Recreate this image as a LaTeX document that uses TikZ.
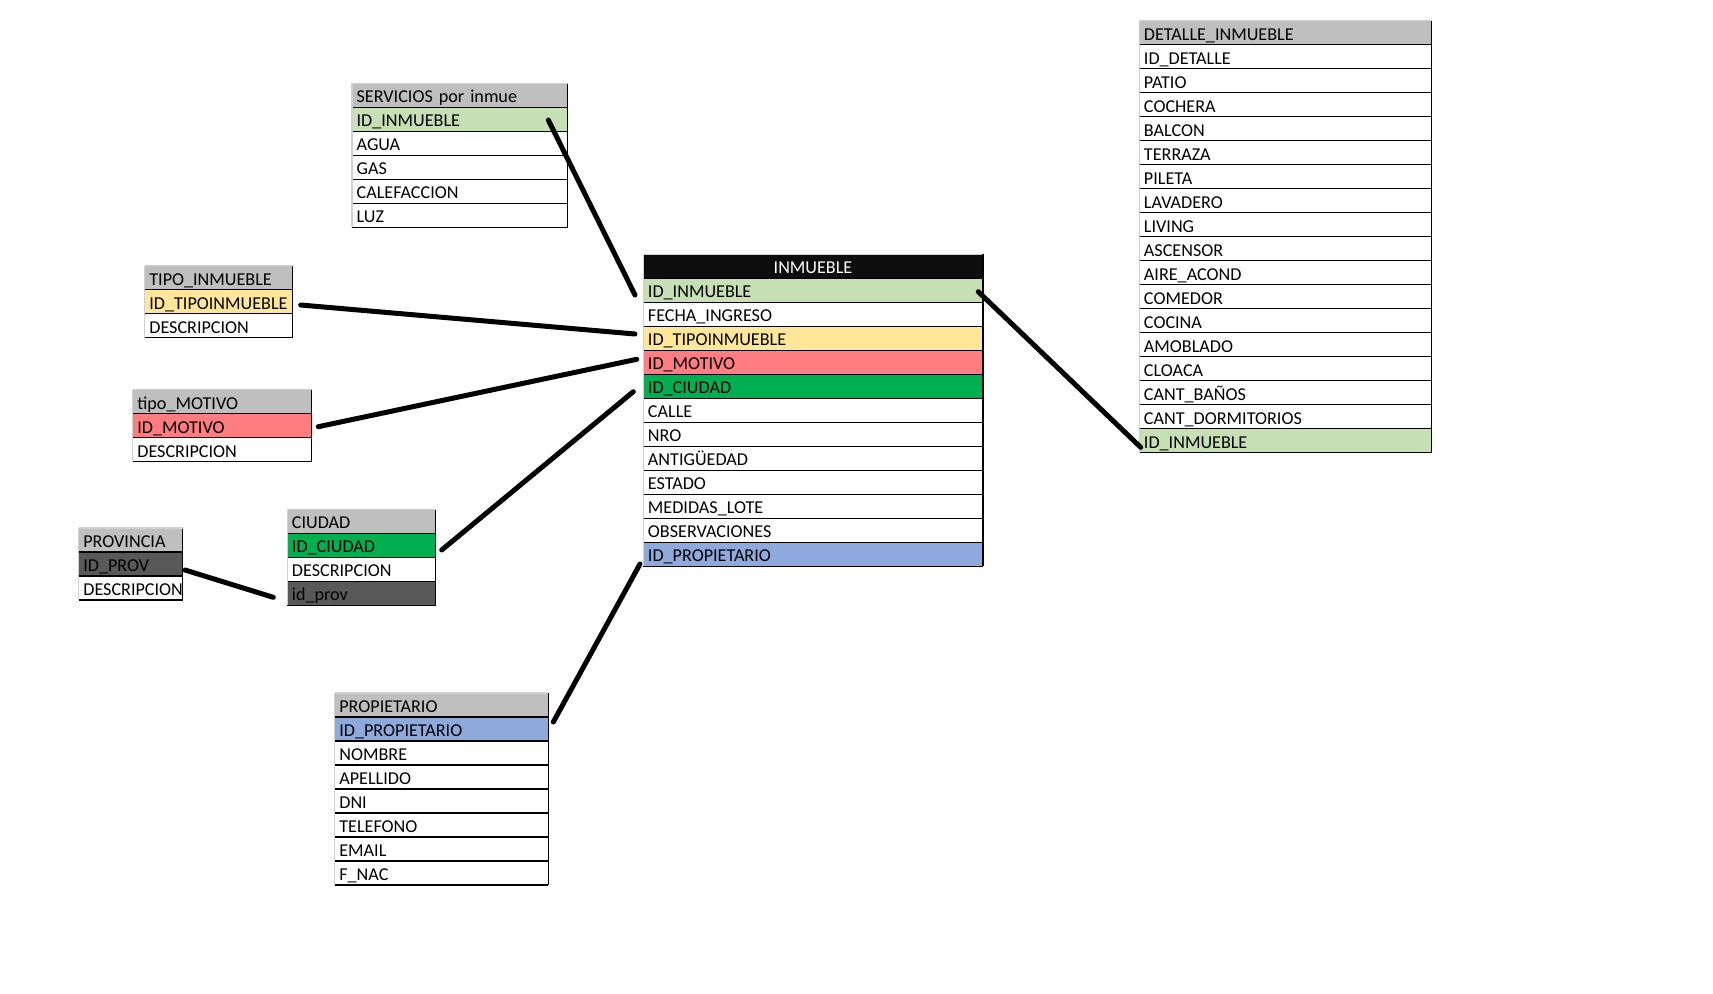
\documentclass[tikz,border=0pt]{standalone}
\usepackage{fontspec}
\setmainfont{Carlito}
\usetikzlibrary{calc}

\definecolor{hdrgray}{HTML}{BFBFBF}
\definecolor{pkgreen}{HTML}{C6E0B4}
\definecolor{tipoyellow}{HTML}{FFE699}
\definecolor{motivored}{HTML}{FF7C80}
\definecolor{ciudadgreen}{HTML}{00B050}
\definecolor{propblue}{HTML}{8EA9DB}
\definecolor{provdark}{HTML}{595959}
\definecolor{inmblack}{HTML}{0D0D0D}
\definecolor{gridgray}{HTML}{D0D0D0}

\tikzset{
  cellbox/.style={anchor=north west, inner xsep=3.5pt, inner ysep=0pt, outer sep=0pt,
    minimum height=18pt, text height=12pt, text depth=1.05pt, align=left,
    font=\fontsize{13.6pt}{16pt}\selectfont},
  rowline/.style={line width=0.9pt, black},
  gridline/.style={line width=0.9pt, gridgray},
  link/.style={line width=3.75pt, line cap=round, black},
}

% one table: name, left x, top y, width (px), rows as fill/text (row 0 is the title)
\newcommand\erTable[5]{%
  \foreach \fl/\tx [count=\k from 0] in {#5} {
    \node[cellbox, fill=\fl, text width=#4*0.75pt-7pt] (#1-\k) at (#2,#3+24*\k) {\tx};
    \xdef\lastk{\k}
  }
  \foreach \k in {1,...,\lastk}
    \draw[rowline] (#1-\k.north west) -- (#1-\k.north east);
  \draw[rowline] (#1-\lastk.south west) -- (#1-\lastk.south east);
  \draw[rowline] (#1-0.north east) -- (#1-\lastk.south east);
  \draw[gridline] (#1-0.north west) -- (#1-0.north east);
  \draw[gridline] (#1-0.north west) -- (#1-\lastk.south west);
}

\begin{document}
\begin{tikzpicture}[x=0.75pt, y=-0.75pt]
\useasboundingbox[fill=white] (0,0) rectangle (1713,993);

\erTable{svc}{352}{83.3}{215.7}{hdrgray/SERVICIOS por inmue, pkgreen/ID\_INMUEBLE,
  white/AGUA, white/GAS, white/CALEFACCION, white/LUZ}

\erTable{tip}{144.7}{265.7}{147.6}{hdrgray/TIPO\_INMUEBLE, tipoyellow/ID\_TIPOINMUEBLE,
  white/DESCRIPCION}

\erTable{mot}{132.7}{389.7}{179}{hdrgray/tipo\_MOTIVO, motivored/ID\_MOTIVO,
  white/DESCRIPCION}

\erTable{prov}{78.7}{528}{104}{hdrgray/PROVINCIA, provdark/ID\_PROV, white/DESCRIPCION}

\erTable{ciu}{287.3}{509.3}{148.4}{hdrgray/CIUDAD, ciudadgreen/ID\_CIUDAD,
  white/DESCRIPCION, provdark/id\_prov}

\erTable{prop}{334.7}{693}{213.6}{hdrgray/PROPIETARIO, propblue/ID\_PROPIETARIO,
  white/NOMBRE, white/APELLIDO, white/DNI, white/TELEFONO, white/EMAIL, white/F\_NAC}

\erTable{inm}{643.3}{254.3}{339.4}{inmblack/{\makebox[\hsize]{\color{white}INMUEBLE}},
  pkgreen/ID\_INMUEBLE, white/FECHA\_INGRESO, tipoyellow/ID\_TIPOINMUEBLE,
  motivored/ID\_MOTIVO, ciudadgreen/ID\_CIUDAD, white/CALLE, white/NRO,
  white/ANTIGÜEDAD, white/ESTADO, white/MEDIDAS\_LOTE, white/OBSERVACIONES,
  propblue/ID\_PROPIETARIO}
\draw[line width=1.6pt] (inm-0.north east) -- (inm-12.south east);

\erTable{det}{1139.3}{20.7}{292.4}{hdrgray/DETALLE\_INMUEBLE, white/ID\_DETALLE,
  white/PATIO, white/COCHERA, white/BALCON, white/TERRAZA, white/PILETA,
  white/LAVADERO, white/LIVING, white/ASCENSOR, white/AIRE\_ACOND, white/COMEDOR,
  white/COCINA, white/AMOBLADO, white/CLOACA, white/CANT\_BAÑOS,
  white/CANT\_DORMITORIOS, pkgreen/ID\_INMUEBLE}

% relationships
\draw[link] ($(svc-1.east)+(-19.4,0.7)$) -- ($(inm-1.west)+(-8.3,4.7)$);
\draw[link] ($(tip-1.east)+(8.4,3.3)$) -- ($(inm-3.west)+(-8.3,-4.3)$);
\draw[link] ($(mot-1.east)+(6.6,1)$) -- ($(inm-4.west)+(-6.6,-3)$);
\draw[link] ($(ciu-1.east)+(6,4.7)$) -- ($(inm-5.west)+(-10,5.4)$);
\draw[link] ($(prov-1.east)+(2.3,6)$) -- ($(ciu-3.west)+(-14,4)$);
\draw[link] ($(prop-1.east)+(5,-7)$) -- ($(inm-12.south west)+(-3.3,-2.3)$);
\draw[link] ($(inm-1.east)+(-4.4,1.4)$) -- ($(det-17.west)+(1.4,6.6)$);
\end{tikzpicture}
\end{document}
